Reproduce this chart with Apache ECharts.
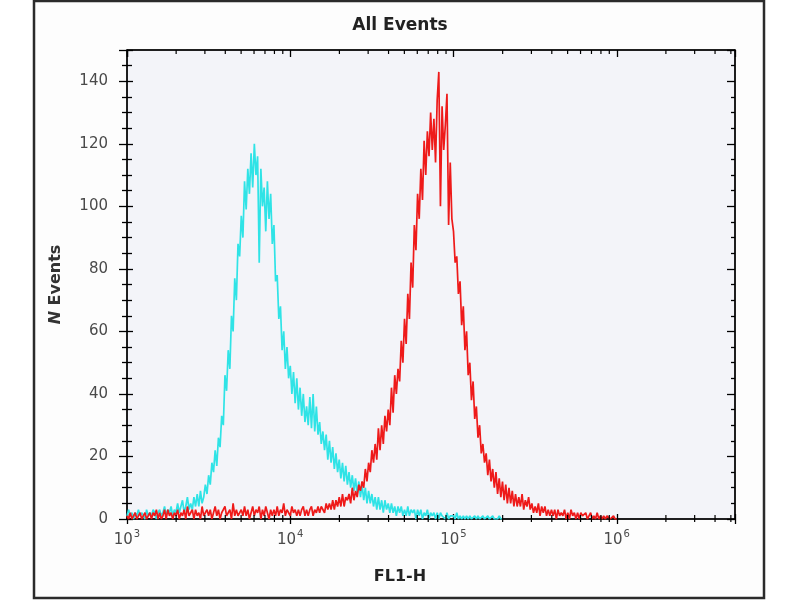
<!DOCTYPE html>
<html>
<head>
<meta charset="utf-8">
<script src="https://cdn.jsdelivr.net/npm/echarts@6/dist/echarts.min.js"></script>
<style>
html,body{margin:0;padding:0;background:#ffffff;}
#chart{width:800px;height:600px;}
</style>
</head>
<body>
<div id="chart"></div>
<script>
// Histogram channels: log10 bin centres start at 3.00 and step 0.01 decade
const binStartExp = 3;
const binStepExp = 0.01;

// Cyan histogram counts (bins 10^3.00 ... 10^5.30)
const cyanCounts = [
  1,3,1,2,0,2,1,3,1,2,
  2,0,3,1,2,1,3,2,0,2,
  3,1,2,4,1,3,2,4,1,3,
  2,5,2,4,6,2,4,7,3,5,
  3,7,4,8,4,9,5,7,11,8,
  14,11,18,15,22,17,26,23,33,30,
  46,41,54,48,65,60,77,70,88,84,
  97,90,108,99,112,104,117,106,120,110,
  116,82,112,100,106,92,108,96,104,88,
  94,76,78,64,68,54,60,48,55,45,
  49,40,47,37,45,35,42,33,40,31,
  36,30,39,29,40,28,36,27,31,24,
  28,22,27,19,25,18,23,16,21,15,
  19,13,18,12,17,11,15,10,14,9,
  13,8,12,7,11,6,10,5,9,5,
  8,4,7,3,7,3,6,2,6,3,
  5,2,5,2,4,1,4,2,4,1,
  3,1,4,1,3,2,3,0,3,1,
  3,0,2,1,3,0,2,1,2,0,
  2,0,2,1,1,0,2,0,1,1,
  1,0,2,0,1,0,1,0,1,0,
  1,0,0,1,0,1,0,0,1,0,
  0,1,0,0,1,0,0,0,1,0,0
];

// Red histogram counts (bins 10^3.00 ... 10^6.00)
const redCounts = [
  1,0,2,0,1,2,0,1,2,0,
  1,2,0,1,2,0,2,1,3,0,
  2,0,1,3,0,3,1,2,0,2,
  1,3,0,2,1,3,0,4,1,2,
  3,0,3,1,2,0,4,1,2,3,
  1,3,0,2,4,1,3,0,2,3,
  4,1,2,3,0,5,1,3,1,2,
  3,1,4,1,3,0,2,4,1,3,
  2,4,0,3,1,4,2,0,3,1,
  3,1,4,1,3,2,5,1,3,2,
  1,4,2,3,1,3,1,3,4,1,
  3,1,3,4,1,3,2,4,2,4,
  4,2,5,3,5,3,6,3,6,4,
  7,4,8,4,7,6,8,5,10,6,
  9,7,11,9,12,10,16,12,18,15,
  22,18,24,19,29,22,30,24,33,28,
  35,30,42,34,46,40,48,44,57,50,
  64,56,72,64,82,74,94,86,104,96,
  112,102,121,110,124,116,130,118,128,114,
  134,143,100,132,118,126,136,94,114,96,
  92,82,84,72,76,62,68,54,60,46,
  50,38,44,32,36,26,30,21,24,18,
  21,14,19,12,16,10,15,8,13,7,
  12,6,11,5,10,5,9,4,8,4,
  7,4,8,3,6,4,7,3,5,2,
  4,2,5,1,4,2,4,1,3,1,
  3,1,3,0,3,1,2,1,3,0,
  2,0,3,1,2,0,2,0,2,1,
  1,2,0,1,2,0,1,0,2,0,
  1,0,1,0,1,1,0,0,1,0,0
];

// Axes
const xMin = 1000;
const xMax = 5300000;
const yMin = 0;
const yMax = 150;
const yInterval = 20;
const xMinorTicks = [
  2000,3000,4000,5000,6000,7000,8000,9000,
  20000,30000,40000,50000,60000,70000,80000,90000,
  200000,300000,400000,500000,600000,700000,800000,900000,
  2000000,3000000,4000000,5000000
];

const titleText = 'All Events';
const xTitle = 'FL1-H';
const yTitle = 'Events';

function toPairs(counts) {
  return counts.map((c, i) => [Math.pow(10, binStartExp + i * binStepExp), c]);
}

const fontFam = 'DejaVu Sans';
const labelColor = '#4a4a4a';

function logLabel(value) {
  const e = Math.log10(value);
  const r = Math.round(e);
  if (Math.abs(e - r) > 1e-6) return '';
  return '{b|10}{s|' + r + '}';
}

const chart = echarts.init(document.getElementById('chart'), null, {renderer: 'canvas'});

const baseX = {
  type: 'log', logBase: 10, min: xMin, max: xMax,
  splitLine: {show: false}, splitNumber: 5,
  axisLine: {onZero: false, lineStyle: {color: '#000', width: 1.5}}
};
const baseY = {
  type: 'value', min: yMin, max: yMax, interval: yInterval,
  splitLine: {show: false},
  axisLine: {onZero: false, lineStyle: {color: '#000', width: 1.5}}
};

chart.setOption({
  animation: false,
  backgroundColor: '#ffffff',
  title: [
    {text: titleText, left: 'center', top: 17, padding: 0,
     textStyle: {fontFamily: fontFam, fontSize: 17, fontWeight: 'bold', color: '#222'}},
    {text: xTitle, left: 'center', top: 569, padding: 0,
     textStyle: {fontFamily: fontFam, fontSize: 16, fontWeight: 'bold', color: '#222'}}
  ],
  graphic: [
    {type: 'rect', z: -10, silent: true,
     shape: {x: 34, y: 1, width: 730, height: 597},
     style: {fill: '#fdfdfd', stroke: '#2b2b2b', lineWidth: 2.5}}
  ],
  grid: {
    left: 127, right: 65, top: 50, bottom: 81,
    show: true, backgroundColor: '#f3f4f9', borderColor: '#000', borderWidth: 1
  },
  xAxis: [
    Object.assign({}, baseX, {
      position: 'bottom',
      axisTick: {show: true, inside: false, length: 5, lineStyle: {color: '#000', width: 1.3}},
      axisLabel: {
        show: true, margin: 10, formatter: logLabel,
        rich: {
          b: {fontFamily: fontFam, fontSize: 15, color: labelColor, lineHeight: 22},
          s: {fontFamily: fontFam, fontSize: 10, color: labelColor, lineHeight: 8, verticalAlign: 'top', padding: [0, 0, 0, 1]}
        }
      }
    }),
    Object.assign({}, baseX, {
      position: 'bottom', axisLine: {show: false, onZero: false},
      axisTick: {show: true, inside: true, length: 5, lineStyle: {color: '#000', width: 1.3}},
      axisLabel: {show: false}
    }),
    Object.assign({}, baseX, {
      position: 'top',
      axisTick: {show: true, inside: true, length: 7, lineStyle: {color: '#000', width: 1.3}},
      axisLabel: {show: false}
    })
  ],
  yAxis: [
    Object.assign({}, baseY, {
      position: 'left',
      name: '{i|N} ' + yTitle, nameLocation: 'middle', nameRotate: 90, nameGap: 63,
      nameTextStyle: {
        fontFamily: fontFam, fontSize: 16, fontWeight: 'bold', color: '#333',
        rich: {i: {fontFamily: fontFam, fontSize: 16, fontWeight: 'bold', fontStyle: 'italic', color: '#333'}}
      },
      axisTick: {show: true, inside: false, length: 8, lineStyle: {color: '#000', width: 1.3}},
      minorTick: {show: true, splitNumber: 4, length: 5, lineStyle: {color: '#000', width: 1.3}},
      axisLabel: {show: true, margin: 19, showMaxLabel: false, fontFamily: fontFam, fontSize: 15, color: labelColor}
    }),
    Object.assign({}, baseY, {
      position: 'left', axisLine: {show: false, onZero: false},
      axisTick: {show: true, inside: true, length: 6, lineStyle: {color: '#000', width: 1.3}},
      minorTick: {show: true, splitNumber: 4, length: 5, lineStyle: {color: '#000', width: 1.3}},
      axisLabel: {show: false}
    }),
    Object.assign({}, baseY, {
      position: 'right',
      axisTick: {show: true, inside: true, length: 8, lineStyle: {color: '#000', width: 1.3}},
      minorTick: {show: true, splitNumber: 4, length: 4, lineStyle: {color: '#000', width: 1.3}},
      axisLabel: {show: false}
    })
  ],
  series: [
    {
      name: 'cyan', type: 'line', xAxisIndex: 0, yAxisIndex: 0,
      data: toPairs(cyanCounts), showSymbol: false, symbol: 'none',
      lineStyle: {color: '#2fe3e6', width: 1.7}, z: 3
    },
    {
      name: 'red', type: 'line', xAxisIndex: 0, yAxisIndex: 0,
      data: toPairs(redCounts), showSymbol: false, symbol: 'none',
      lineStyle: {color: '#ee1a1a', width: 1.7}, z: 4
    },
    {
      name: 'minorTicks', type: 'custom', xAxisIndex: 0, yAxisIndex: 0,
      silent: true, clip: false, z: 6,
      data: xMinorTicks.map(v => [v, 0]),
      renderItem: function (params, api) {
        const v = api.value(0);
        const b = api.coord([v, yMin]);
        const t = api.coord([v, yMax]);
        const st = {stroke: '#000', lineWidth: 1.2};
        return {type: 'group', children: [
          {type: 'line', shape: {x1: b[0], y1: b[1] - 4, x2: b[0], y2: b[1] + 3}, style: st},
          {type: 'line', shape: {x1: t[0], y1: t[1], x2: t[0], y2: t[1] + 4}, style: st}
        ]};
      }
    }
  ]
});
</script>
</body>
</html>
